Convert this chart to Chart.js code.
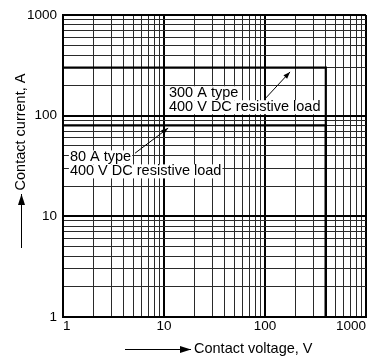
<!DOCTYPE html>
<html><head><meta charset="utf-8">
<script src="https://cdn.jsdelivr.net/npm/chart.js@4.4.1/dist/chart.umd.min.js"></script>
<style>html,body{margin:0;padding:0;background:#fff}canvas{display:block}</style>
</head><body>
<canvas id="c" width="379" height="356"></canvas>
<script>
// ---- data ----
const seriesNames = ['300 A type', '80 A type'];
const voltage300 = [1, 400, 400];
const current300 = [300, 300, 1];
const voltage80 = [1, 400, 400];
const current80 = [80, 80, 1];
const decades = [1, 10, 100];
const minorMultipliers = [1, 2, 3, 4, 5, 6, 7, 8, 9];
const axisMax = 1000;
const tickLabelValues = [1, 10, 100, 1000];
const tickLabels = ['1', '10', '100', '1000'];
const xTitle = 'Contact voltage, V';
const yTitle = 'Contact current, A';
const note300 = ['300 A type', '400 V DC resistive load'];
const note80 = ['80 A type', '400 V DC resistive load'];

const FONT = '"Liberation Sans", Arial, Helvetica, sans-serif';
const gridValues = [];
decades.forEach(d => minorMultipliers.forEach(m => gridValues.push(d * m)));
gridValues.push(axisMax);

function isDecade(v) { return tickLabelValues.indexOf(v) >= 0; }
function toPts(xs, ys) { return xs.map((x, i) => ({x: x, y: ys[i]})); }

function arrow(ctx, x1, y1, x2, y2, len, half) {
  ctx.beginPath(); ctx.moveTo(x1, y1); ctx.lineTo(x2, y2); ctx.stroke();
  const a = Math.atan2(y2 - y1, x2 - x1);
  ctx.beginPath();
  ctx.moveTo(x2, y2);
  ctx.lineTo(x2 - len * Math.cos(a) + half * Math.sin(a), y2 - len * Math.sin(a) - half * Math.cos(a));
  ctx.lineTo(x2 - len * Math.cos(a) - half * Math.sin(a), y2 - len * Math.sin(a) + half * Math.cos(a));
  ctx.closePath(); ctx.fill();
}

function drawNote(ctx, lines, x, y, lh) {
  lines.forEach((t, i) => {
    const w = ctx.measureText(t).width;
    const cy = y + i * lh;
    ctx.fillStyle = '#fff';
    ctx.fillRect(x - 1, cy - lh / 2, w + 2, lh);
    ctx.fillStyle = '#000';
    ctx.fillText(t, x, cy);
  });
}

const decor = {
  id: 'decor',
  afterDatasetsDraw(chart) {
    const ctx = chart.ctx, xs = chart.scales.x, ys = chart.scales.y;
    ctx.save();
    ctx.font = '14.5px ' + FONT;
    ctx.textBaseline = 'middle';
    ctx.textAlign = 'left';
    ctx.strokeStyle = '#000';
    ctx.fillStyle = '#000';
    ctx.lineWidth = 1;
    drawNote(ctx, note300, xs.getPixelForValue(11.2), ys.getPixelForValue(167), 14);
    drawNote(ctx, note80, xs.getPixelForValue(1.17), ys.getPixelForValue(38.5), 14);
    ctx.fillStyle = '#000';
    arrow(ctx, xs.getPixelForValue(102), ys.getPixelForValue(150),
               xs.getPixelForValue(177), ys.getPixelForValue(272), 7, 2.5);
    arrow(ctx, xs.getPixelForValue(5.17), ys.getPixelForValue(42.4),
               xs.getPixelForValue(11.0), ys.getPixelForValue(75.3), 7, 2.5);
    ctx.restore();
  },
  afterDraw(chart) {
    const ctx = chart.ctx;
    ctx.save();
    ctx.font = '14.5px ' + FONT;
    ctx.fillStyle = '#000';
    ctx.strokeStyle = '#000';
    ctx.lineWidth = 1;
    ctx.textBaseline = 'middle';
    ctx.textAlign = 'left';
    ctx.fillText(xTitle, 194, 349);
    arrow(ctx, 125, 349.5, 191, 349.5, 11, 3.5);
    ctx.translate(21, 132);
    ctx.rotate(-Math.PI / 2);
    ctx.textAlign = 'center';
    ctx.fillText(yTitle, 0, 0);
    ctx.restore();
    ctx.save();
    ctx.fillStyle = '#000'; ctx.strokeStyle = '#000'; ctx.lineWidth = 1;
    arrow(ctx, 21.5, 248, 21.5, 194, 11, 3.5);
    ctx.restore();
  }
};

function scaleCfg(axis) {
  return {
    type: 'logarithmic',
    min: 1, max: axisMax,
    afterBuildTicks(s) { s.ticks = gridValues.map(v => ({value: v, major: isDecade(v)})); },
    afterFit(s) { if (axis === 'x') s.height = 39; else s.width = 63; },
    ticks: {
      autoSkip: false, maxRotation: 0, minRotation: 0,
      padding: axis === 'x' ? 1 : 6,
      align: axis === 'x' ? 'inner' : 'center',
      color: '#000',
      font: {family: FONT, size: 13.5},
      callback(v) { const i = tickLabelValues.indexOf(v); return i >= 0 ? tickLabels[i] : ''; }
    },
    grid: {
      drawTicks: false,
      color: c => isDecade(c.tick.value) ? '#000' : '#2a2a2a',
      lineWidth: c => isDecade(c.tick.value) ? 2 : 1
    },
    border: {display: true, color: '#000', width: 2}
  };
}

new Chart(document.getElementById('c'), {
  type: 'line',
  data: {
    datasets: [
      {label: seriesNames[0], data: toPts(voltage300, current300)},
      {label: seriesNames[1], data: toPts(voltage80, current80)}
    ].map(d => Object.assign(d, {borderColor: '#000', borderWidth: 2.2, pointRadius: 0, tension: 0, fill: false}))
  },
  options: {
    responsive: false, animation: false, devicePixelRatio: 1,
    layout: {padding: {left: 0, right: 13, top: 15, bottom: 0}},
    plugins: {legend: {display: false}, tooltip: {enabled: false}},
    scales: {x: scaleCfg('x'), y: scaleCfg('y')}
  },
  plugins: [decor]
});
</script>
</body></html>
